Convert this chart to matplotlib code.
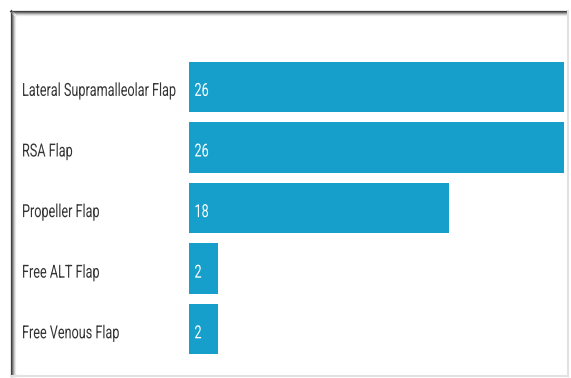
import matplotlib
matplotlib.use("Agg")
import matplotlib.pyplot as plt
from matplotlib.lines import Line2D
from matplotlib.text import Text
from matplotlib.patheffects import AbstractPathEffect
from matplotlib.transforms import Affine2D, Bbox, blended_transform_factory

flaps = ["Lateral Supramalleolar Flap", "RSA Flap", "Propeller Flap",
         "Free ALT Flap", "Free Venous Flap"]
counts = [26, 26, 18, 2, 2]

plt.rcParams['font.family'] = ['Roboto', 'DejaVu Sans']

SX = 0.70  # horizontal squeeze for a condensed look


class Squeeze(AbstractPathEffect):
    """Draw glyphs narrowed horizontally, like a condensed face."""

    def __init__(self, sx=SX):
        super().__init__()
        self.sx = sx

    def draw_path(self, renderer, gc, tpath, affine, rgbFace=None):
        renderer.draw_path(gc, tpath, Affine2D().scale(self.sx, 1) + affine, rgbFace)


class NarrowText(Text):
    """Left-aligned text drawn condensed; extent reports the narrowed width."""

    def __init__(self, *args, **kw):
        kw.setdefault("path_effects", [Squeeze(SX)])
        super().__init__(*args, **kw)

    def get_window_extent(self, renderer=None, dpi=None):
        bb = super().get_window_extent(renderer, dpi)
        return Bbox.from_extents(bb.x0, bb.y0, bb.x0 + bb.width * SX, bb.y1)


W, H = 571, 378
fig = plt.figure(figsize=(W / 100, H / 100), dpi=100)
fig.patch.set_facecolor("white")

# axes box in pixels: bars run from x=189 to x=564, rows centred 87..329
left, right = 189, 564
top, bottom = 56.5, 359.5
ax = fig.add_axes([left / W, 1 - bottom / H, (right - left) / W, (bottom - top) / H])

bar_color = "#179fcc"
ypos = list(range(len(flaps)))
ax.barh(ypos, counts, height=0.83, color=bar_color)
ax.set_xlim(0, max(counts))
ax.set_ylim(len(flaps) - 0.5, -0.5)
ax.set_xticks([])
ax.set_yticks([])
for s in ax.spines.values():
    s.set_visible(False)

# category names sit at a fixed x in the figure, aligned with each bar
lab_tr = blended_transform_factory(fig.transFigure, ax.transData)
for y, name, v in zip(ypos, flaps, counts):
    t = ax.add_artist(NarrowText(22 / W, y + 0.15, name, transform=lab_tr, fontsize=13,
                                 color="#333333", va="baseline", ha="left"))
    t.set_clip_on(False)
    ax.add_artist(NarrowText(0.38, y + 0.15, str(v), transform=ax.transData,
                             color="white", fontsize=13, va="baseline", ha="left"))


# panel frame: dark top/left edges with a soft shadow, light right/bottom edges
def fx(px):
    return px / W


def fy(py):
    return 1 - py / H


for off, c in [(0, "#3a3a3a"), (1, "#6a6a6a"), (2, "#9a9a9a"), (3, "#c8c8c8"), (4, "#e8e8e8")]:
    fig.add_artist(Line2D([fx(10 + off), fx(567)], [fy(10.5 + off), fy(10.5 + off)], color=c, lw=0.9))
    fig.add_artist(Line2D([fx(10.5 + off), fx(10.5 + off)], [fy(10 + off), fy(376)], color=c, lw=0.9))
fig.add_artist(Line2D([fx(567.5), fx(567.5)], [fy(11), fy(376)], color="#e2e2e2", lw=1.5))
fig.add_artist(Line2D([fx(11), fx(568)], [fy(375.5), fy(375.5)], color="#e2e2e2", lw=1.5))

fig.savefig("out.png", dpi=100)
